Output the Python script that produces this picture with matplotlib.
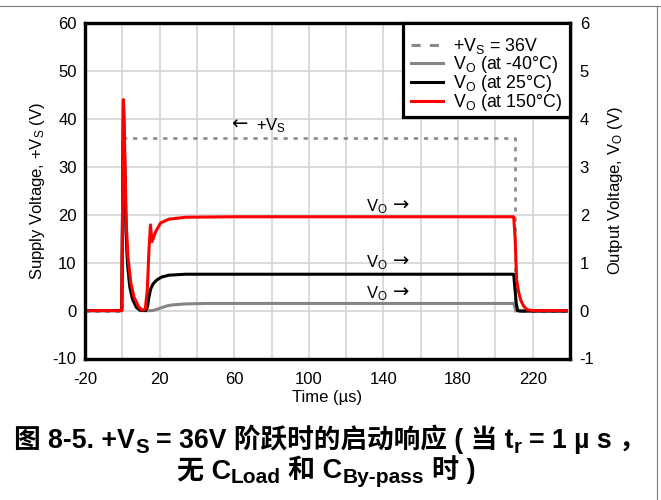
import matplotlib
matplotlib.use("Agg")
import matplotlib.pyplot as plt
from matplotlib.lines import Line2D
from matplotlib.patches import Rectangle
from matplotlib.transforms import IdentityTransform

plt.rcParams['font.family'] = ['Liberation Sans', 'DejaVu Sans']
plt.rcParams['mathtext.fontset'] = 'custom'
plt.rcParams['mathtext.rm'] = 'Liberation Sans'
plt.rcParams['mathtext.it'] = 'Liberation Sans:italic'
plt.rcParams['mathtext.bf'] = 'Liberation Sans:bold'
plt.rcParams['axes.unicode_minus'] = False

# ---------------- data ----------------
time_vs = [-20, 0.0, 0.0, 210.3, 210.3, 238]
supply_vs = [0, 0, 36, 36, 0, 0]

time_gray = [-20, -0.3, 0.6, 1.3, 2.0, 2.8, 4.0, 5.5, 7.5, 9.5, 16.0, 18.0, 21.0,
             24.0, 27.0, 34.0, 45.0, 120, 209.8, 210.6, 211.5, 238]
vo_gray = [0, 0, 4.3, 3.0, 1.6, 0.95, 0.48, 0.22, 0.06, 0.0, 0.0, 0.02, 0.06,
           0.10, 0.12, 0.14, 0.15, 0.15, 0.15, 0.05, 0.0, 0.0]

time_black = [-20, -0.3, 0.6, 1.3, 2.0, 2.8, 4.0, 5.5, 7.5, 9.5, 12.5, 13.5, 14.3,
              15.2, 16.5, 18.5, 21, 25, 34, 60, 120, 209.8, 210.5, 211.2, 211.9, 213, 238]
vo_black = [0, 0, 4.4, 3.0, 1.7, 1.0, 0.52, 0.25, 0.08, 0.01, 0.0, 0.08, 0.29,
            0.45, 0.56, 0.64, 0.70, 0.74, 0.76, 0.76, 0.76, 0.76, 0.45, 0.15, 0.0, -0.01, -0.01]

time_red = [-20, -0.3, 0.6, 1.4, 2.1, 3.0, 4.6, 6.2, 8.6, 10.5, 12.3, 13.4, 14.3,
            15.1, 15.9, 17.9, 20.5, 25, 34, 60, 120, 209.8, 210.6, 211.4, 212.5,
            213.6, 215, 217, 220, 238]
vo_red = [0, 0, 4.4, 3.2, 1.83, 1.13, 0.57, 0.29, 0.09, 0.01, 0.03, 0.43, 1.27,
          1.79, 1.44, 1.65, 1.83, 1.91, 1.95, 1.96, 1.96, 1.96, 1.5, 0.64, 0.38,
          0.22, 0.1, 0.02, 0.0, 0.0]

x_ticks = [-20, 20, 60, 100, 140, 180, 220]
x_grid = [0, 40, 80, 120, 160, 200, 240]
left_ticks = [-10, 0, 10, 20, 30, 40, 50, 60]
right_ticks = [-1, 0, 1, 2, 3, 4, 5, 6]

legend_labels = [r"+V$_\mathregular{S}$ = 36V",
                 r"V$_\mathregular{O}$ (at -40°C)",
                 r"V$_\mathregular{O}$ (at 25°C)",
                 r"V$_\mathregular{O}$ (at 150°C)"]

# annotation: (arrow x, text x, baseline y on supply axis)
vs_note = (58.5, 71.5, 37.7)
vs_note_text = r"+V$_\mathregular{S}$"
vo_note_x = 130.5
vo_arrow_x = 145.0
vo_note_y = [20.8, 9.0, 2.6]
vo_note_text = r"V$_\mathregular{O}$"

title_line1 = [("图 8-5. +V", False), ("S", True),
               (" = 36V 阶跃时的启动响应 ( 当 t", False), ("r", True),
               (" = 1 µ s ，", False)]
title_line2 = [("无 C", False), ("Load", True), (" 和 C", False),
               ("By-pass", True), (" 时 )", False)]

# ---------------- figure ----------------
W, H = 661, 500
AX_L, AX_R, AX_T, AX_B = 85, 570, 23.3, 358.5
fig = plt.figure(figsize=(W / 100, H / 100), dpi=100)
ax = fig.add_axes([AX_L / W, 1 - AX_B / H, (AX_R - AX_L) / W, (AX_B - AX_T) / H])
ax2 = ax.twinx()

ax.set_xlim(-20, 240)
ax.set_ylim(-10, 60)
ax2.set_ylim(-1, 6)

ax.set_xticks(x_ticks)
ax.set_xticks(x_grid, minor=True)
ax.set_yticks(left_ticks)
ax2.set_yticks(right_ticks)
ax.grid(True, which='both', axis='x', color='#d4d4d4', lw=1.2)
ax.grid(True, which='major', axis='y', color='#d4d4d4', lw=1.2)
ax.set_axisbelow(True)

ax.tick_params(axis='both', which='both', length=0, labelsize=12)
ax.tick_params(axis='x', pad=10)
ax.tick_params(axis='y', pad=6)
ax2.tick_params(axis='y', length=0, labelsize=12, pad=7)

for a in (ax, ax2):
    for s in a.spines.values():
        s.set_linewidth(2.3)
        s.set_color('black')

ax.plot(time_vs, supply_vs, color='#8a8a8a', lw=1.9, dashes=(1.6, 2.2))
ax2.plot(time_gray, vo_gray, color='#858585', lw=2.2)
ax2.plot(time_black, vo_black, color='black', lw=2.2)
ax2.plot(time_red, vo_red, color='#ff0000', lw=2.2)

ax.text(vs_note[0], vs_note[2] + 1.3, "←", fontsize=14, family='DejaVu Sans',
        ha='left', va='center')
ax.text(vs_note[1], vs_note[2], vs_note_text, fontsize=12, ha='left', va='baseline')
for yv in vo_note_y:
    ax.text(vo_note_x, yv, vo_note_text, fontsize=12, ha='left', va='baseline')
    ax.text(vo_arrow_x, yv + 1.3, "→", fontsize=14, family='DejaVu Sans',
            ha='left', va='center')

ax.set_xlabel("Time (µs)", fontsize=12, labelpad=2)
ax.set_ylabel(r"Supply Voltage, +V$_\mathregular{S}$ (V)", fontsize=12, labelpad=4)
ax2.set_ylabel(r"Output Voltage, V$_\mathregular{O}$ (V)", fontsize=12, labelpad=8)

# legend frame drawn separately so the entries can sit slightly lower
ax_h = AX_B - AX_T
ax_w = AX_R - AX_L
frame = Rectangle(((403 - AX_L) / ax_w, (AX_B - 117) / ax_h),
                  (AX_R - 403) / ax_w, (117 - AX_T) / ax_h,
                  transform=ax2.transAxes, facecolor='white', edgecolor='black',
                  lw=2.3, zorder=4, clip_on=False)
ax2.add_patch(frame)

handles = [Line2D([], [], color='#8a8a8a', lw=2.2, dashes=(3, 3)),
           Line2D([], [], color='#858585', lw=2.2),
           Line2D([], [], color='black', lw=2.2),
           Line2D([], [], color='#ff0000', lw=2.2)]
leg = ax2.legend(handles, legend_labels, loc='upper right', fontsize=12.8,
                 frameon=False, bbox_to_anchor=(1.0, 1.0 - 4.5 / ax_h),
                 borderaxespad=0, handlelength=1.8, handletextpad=0.55,
                 labelspacing=-0.1, borderpad=0.45)
leg.set_zorder(5)

# page border (thin grey top and right)
fig.add_artist(Line2D([0, 1], [1 - 5.5 / H, 1 - 5.5 / H], color='#7a7a7a', lw=0.8,
                      transform=fig.transFigure))
fig.add_artist(Line2D([656.5 / W, 656.5 / W], [0, 1 - 5.5 / H], color='#7a7a7a', lw=0.8,
                      transform=fig.transFigure))

# ---------------- rich title ----------------
FAM = ['Liberation Sans', 'Noto Sans CJK SC']
renderer = fig.canvas.get_renderer()
idt = IdentityTransform()


def text_width(s, size):
    t = fig.text(0, 0, s, fontsize=size, fontweight='bold', family=FAM, transform=idt)
    w = t.get_window_extent(renderer).width
    t.remove()
    return w


def draw_rich(segs, cx, base_y, fs, sub_scale=0.77, sub_drop=0.19):
    items = []
    total = 0.0
    for s, sub in segs:
        size = fs * sub_scale if sub else fs
        sp = text_width('a a', size) - text_width('aa', size)
        lead = len(s) - len(s.lstrip(' '))
        trail = len(s) - len(s.rstrip(' '))
        core = s.strip(' ')
        w = text_width(core, size)
        items.append((core, size, sub, lead * sp, trail * sp, w))
        total += lead * sp + w + trail * sp
    x = cx - total / 2
    for core, size, sub, l, tr, w in items:
        x += l
        y = base_y - (fs * sub_drop * 100 / 72 if sub else 0)
        fig.text(x, y, core, fontsize=size, fontweight='bold', family=FAM,
                 transform=idt, ha='left', va='baseline')
        x += w + tr


draw_rich(title_line1, 330, H - 447.5, 19.2)
draw_rich(title_line2, 326, H - 478, 19.5)

fig.savefig("out.png", dpi=100)
